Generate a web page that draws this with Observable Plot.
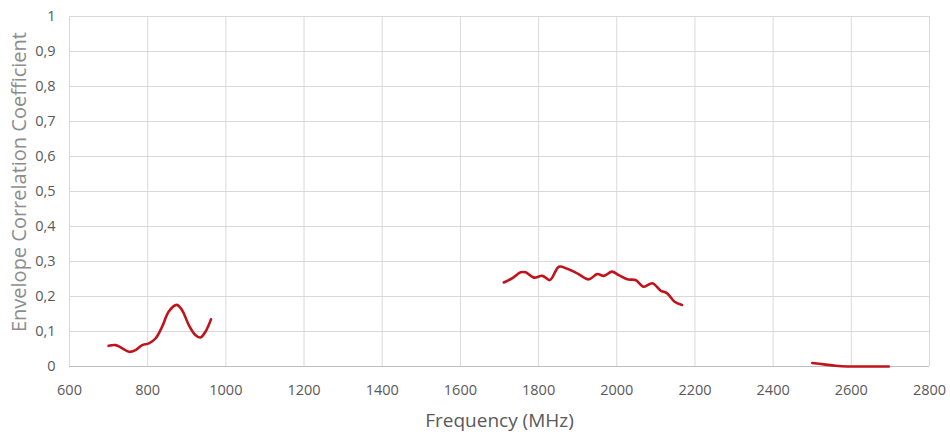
<!DOCTYPE html>
<html>
<head>
<meta charset="utf-8">
<script src="https://cdn.jsdelivr.net/npm/d3@7"></script>
<script src="https://cdn.jsdelivr.net/npm/@observablehq/plot@0.6"></script>
<style>
  html, body { margin: 0; padding: 0; background: #ffffff; }
  #chart { width: 950px; height: 434px; }
  svg { font-family: "Open Sans", "Liberation Sans", sans-serif; }
</style>
</head>
<body>
<div id="chart"></div>
<script>
// Band 1 (low band)
const freq1 = [700, 718, 735, 752, 769, 786, 803, 820, 837, 854, 874, 888, 905, 922, 935, 948, 962];
const ecc1  = [0.059, 0.061, 0.052, 0.042, 0.047, 0.061, 0.066, 0.080, 0.114, 0.157, 0.176, 0.161, 0.119, 0.090, 0.083, 0.100, 0.135];
// Band 2 (mid band)
const freq2 = [1711, 1732, 1754, 1767, 1788, 1810, 1829, 1852, 1873, 1899, 1928, 1950, 1967, 1988, 2005, 2027, 2048, 2069, 2091, 2112, 2129, 2148, 2167];
const ecc2  = [0.240, 0.252, 0.269, 0.269, 0.254, 0.259, 0.247, 0.285, 0.279, 0.266, 0.249, 0.264, 0.259, 0.271, 0.261, 0.249, 0.247, 0.228, 0.238, 0.217, 0.209, 0.185, 0.176];
// Band 3 (high band)
const freq3 = [2500, 2530, 2560, 2590, 2620, 2650, 2696];
const ecc3  = [0.010, 0.006, 0.002, 0.000, 0.000, 0.000, 0.000];

const xTicks = [600, 800, 1000, 1200, 1400, 1600, 1800, 2000, 2200, 2400, 2600, 2800];
const yTicks = [0, 0.1, 0.2, 0.3, 0.4, 0.5, 0.6, 0.7, 0.8, 0.9, 1];
const yTickLabels = ["0", "0,1", "0,2", "0,3", "0,4", "0,5", "0,6", "0,7", "0,8", "0,9", "1"];

const xLabel = "Frequency (MHz)";
const yLabel = "Envelope Correlation Coefficient";

const rows = [];
freq1.forEach((f, i) => rows.push({band: "b1", f, v: ecc1[i]}));
freq2.forEach((f, i) => rows.push({band: "b2", f, v: ecc2[i]}));
freq3.forEach((f, i) => rows.push({band: "b3", f, v: ecc3[i]}));

const chart = Plot.plot({
  width: 950,
  height: 434,
  marginLeft: 69,
  marginRight: 21,
  marginTop: 16,
  marginBottom: 68,
  style: {fontSize: "14px", color: "#595959", background: "#ffffff", overflow: "visible"},
  x: {domain: [600, 2800], ticks: xTicks, label: null},
  y: {domain: [0, 1], ticks: yTicks, label: null},
  marks: [
    Plot.gridX(xTicks, {stroke: "#d9d9d9", strokeOpacity: 1, strokeWidth: 1}),
    Plot.gridY(yTicks, {stroke: "#d9d9d9", strokeOpacity: 1, strokeWidth: 1}),
    Plot.ruleY([0], {stroke: "#bfbfbf", strokeWidth: 1}),
    Plot.axisX(xTicks, {tickSize: 0, tickPadding: 18, fill: "#595959", fontSize: 14.5, label: null,
      tickFormat: (d) => String(d)}),
    Plot.axisY(yTicks, {tickSize: 0, tickPadding: 14, fill: "#595959", fontSize: 14.5, label: null,
      tickFormat: (d) => yTickLabels[yTicks.indexOf(d)]}),
    Plot.line(rows, {x: "f", y: "v", z: "band", stroke: "#c0141c", strokeWidth: 2.6, curve: "catmull-rom"}),
    Plot.text([xLabel], {frameAnchor: "bottom", dy: 60, fill: "#595959", fontSize: 19}),
    Plot.text([yLabel], {frameAnchor: "left", y: () => 0.527, dx: -50, rotate: -90, textAnchor: "middle", fill: "#8c8c8c", fontSize: 20})
  ]
});
document.getElementById("chart").appendChild(chart);
</script>
</body>
</html>
